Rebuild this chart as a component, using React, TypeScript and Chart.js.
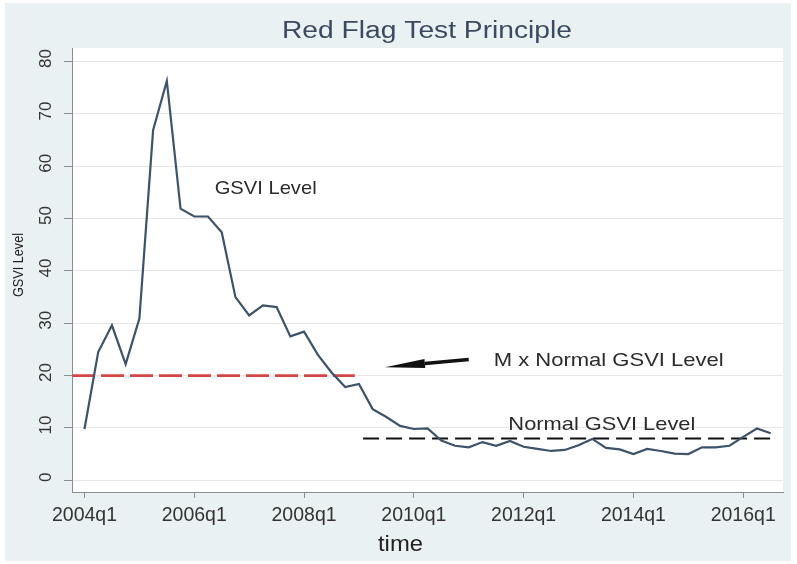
import React, { useEffect, useRef } from 'react';
import { Chart, registerables } from 'chart.js';

Chart.register(...registerables);

// ---- data ----
const chartTitle = 'Red Flag Test Principle';
const xAxisTitle = 'time';
const yAxisTitle = 'GSVI Level';
// quarterly GSVI level, starting 2004q1 (index 0)
const gsvi = [
  9.8, 24.5, 29.6, 22.2, 30.9, 66.9, 76.3, 51.9, 50.4, 50.4,
  47.4, 35.0, 31.5, 33.4, 33.1, 27.5, 28.4, 24.0, 20.6, 17.8,
  18.4, 13.6, 12.1, 10.4, 9.8, 9.9, 7.6, 6.6, 6.3, 7.3,
  6.6, 7.5, 6.4, 6.0, 5.6, 5.8, 6.7, 7.9, 6.2, 5.9,
  5.0, 6.0, 5.6, 5.1, 5.0, 6.3, 6.3, 6.6, 8.3, 9.9,
  9.0,
];
const xTickIndex = [0, 8, 16, 24, 32, 40, 48];
const xTickLabels = ['2004q1', '2006q1', '2008q1', '2010q1', '2012q1', '2014q1', '2016q1'];
const yTicks = [0, 10, 20, 30, 40, 50, 60, 70, 80];
const xRange = [-0.91, 50.9];
const yRange = [-2.24, 82.6];

// reference levels
const mNormalLevel = 20;
const mNormalSpan = [-0.91, 19.7];
const normalLevel = 8;
const normalSpan = [20.3, 50.1];

// annotations (quarter index, value)
const annotations = [
  { text: 'GSVI Level', q: 13.2, v: 54.7, width: 102 },
  { text: 'M x Normal GSVI Level', q: 38.2, v: 21.8, width: 230 },
  { text: 'Normal GSVI Level', q: 37.7, v: 9.56, width: 187 },
];
const arrowFrom = { q: 28.0, v: 23.1 };
const arrowTo = { q: 21.9, v: 21.6 };

const FONT = '"Liberation Sans", Arial, Helvetica, sans-serif';

function drawText(
  ctx: CanvasRenderingContext2D,
  text: string,
  x: number,
  y: number,
  size: number,
  color: string,
  opts: { width?: number; rotate?: boolean; baseline?: CanvasTextBaseline } = {}
) {
  ctx.save();
  ctx.font = `${size}px ${FONT}`;
  const w = ctx.measureText(text).width;
  ctx.translate(x, y);
  if (opts.rotate) ctx.rotate(-Math.PI / 2);
  if (opts.width) ctx.scale(opts.width / w, 1);
  ctx.fillStyle = color;
  ctx.textAlign = 'center';
  ctx.textBaseline = opts.baseline || 'alphabetic';
  ctx.fillText(text, 0, 0);
  ctx.restore();
}

const decorPlugin = {
  id: 'decor',
  beforeDraw(chart: any) {
    const { ctx, chartArea: a, width, height } = chart;
    ctx.save();
    ctx.fillStyle = '#ffffff';
    ctx.fillRect(0, 0, width, height);
    ctx.fillStyle = '#e9f1f3';
    ctx.fillRect(5, 3, width - 11, height - 6);
    ctx.fillStyle = '#ffffff';
    ctx.fillRect(a.left, a.top, a.right - a.left, a.bottom - a.top);
    ctx.restore();
  },
  afterDraw(chart: any) {
    const { ctx } = chart;
    const xs = chart.scales.x;
    const ys = chart.scales.y;
    // title
    drawText(ctx, chartTitle, 427, 38.3, 23, '#3b4a60', { width: 290 });
    // y tick labels (rotated)
    yTicks.forEach((t) => {
      drawText(ctx, String(t), 46, ys.getPixelForValue(t) - 3, 17, '#333333', {
        rotate: true,
        baseline: 'middle',
      });
    });
    // x tick labels
    xTickIndex.forEach((q, i) => {
      drawText(ctx, xTickLabels[i], xs.getPixelForValue(q), 520.7, 19.5, '#333333');
    });
    // axis titles
    drawText(ctx, xAxisTitle, 400.5, 550.7, 22, '#222222', { width: 45 });
    drawText(ctx, yAxisTitle, 19, 265, 15.5, '#222222', { rotate: true, baseline: 'middle', width: 64 });
    // annotations
    annotations.forEach((an) => {
      drawText(ctx, an.text, xs.getPixelForValue(an.q), ys.getPixelForValue(an.v), 19, '#2b2b2b', {
        width: an.width,
      });
    });
    // arrow
    const tx = xs.getPixelForValue(arrowFrom.q);
    const ty = ys.getPixelForValue(arrowFrom.v);
    const hx = xs.getPixelForValue(arrowTo.q);
    const hy = ys.getPixelForValue(arrowTo.v);
    const ang = Math.atan2(hy - ty, hx - tx);
    const dx = Math.cos(ang);
    const dy = Math.sin(ang);
    const headLen = 40;
    const half = 4.5;
    const bx = hx - dx * headLen;
    const by = hy - dy * headLen;
    ctx.save();
    ctx.strokeStyle = '#111111';
    ctx.fillStyle = '#111111';
    ctx.lineWidth = 3.5;
    ctx.lineCap = 'butt';
    ctx.beginPath();
    ctx.moveTo(tx, ty);
    ctx.lineTo(bx, by);
    ctx.stroke();
    ctx.beginPath();
    ctx.moveTo(hx, hy);
    ctx.lineTo(bx - dy * half, by + dx * half);
    ctx.lineTo(bx + dy * half, by - dx * half);
    ctx.closePath();
    ctx.fill();
    ctx.restore();
  },
};

export default function App() {
  const ref = useRef<HTMLCanvasElement | null>(null);

  useEffect(() => {
    if (!ref.current) return;
    const chart = new Chart(ref.current, {
      type: 'line',
      data: {
        datasets: [
          {
            label: 'GSVI',
            data: gsvi.map((v, i) => ({ x: i, y: v })),
            borderColor: '#3b536b',
            borderWidth: 2.2,
            pointRadius: 0,
            tension: 0,
            fill: false,
          },
          {
            label: 'M x Normal',
            data: mNormalSpan.map((q) => ({ x: q, y: mNormalLevel })),
            borderColor: '#d64545',
            borderWidth: 2.6,
            borderDash: [23, 6],
            pointRadius: 0,
            fill: false,
          },
          {
            label: 'Normal',
            data: normalSpan.map((q) => ({ x: q, y: normalLevel })),
            borderColor: '#111111',
            borderWidth: 2,
            borderDash: [16, 7],
            pointRadius: 0,
            fill: false,
          },
        ],
      },
      options: {
        responsive: false,
        animation: false,
        layout: { padding: { top: 48, right: 14, left: 0, bottom: 0 } },
        plugins: {
          legend: { display: false },
          tooltip: { enabled: false },
          title: { display: false },
        },
        scales: {
          x: {
            type: 'linear',
            min: xRange[0],
            max: xRange[1],
            afterBuildTicks: (s: any) => {
              s.ticks = xTickIndex.map((v) => ({ value: v }));
            },
            afterFit: (s: any) => {
              s.height = 72;
            },
            ticks: { display: false },
            grid: {
              drawOnChartArea: false,
              drawTicks: true,
              tickLength: 6,
              tickColor: '#8c8c8c',
            },
            border: { display: true, color: '#8c8c8c', width: 1 },
          },
          y: {
            type: 'linear',
            min: yRange[0],
            max: yRange[1],
            afterBuildTicks: (s: any) => {
              s.ticks = yTicks.map((v) => ({ value: v }));
            },
            afterFit: (s: any) => {
              s.width = 72;
            },
            ticks: { display: false },
            grid: {
              color: '#e6e6e6',
              lineWidth: 1,
              drawTicks: true,
              tickLength: 8,
              tickColor: '#8c8c8c',
            },
            border: { display: true, color: '#8c8c8c', width: 1 },
          },
        },
      },
      plugins: [decorPlugin],
    } as any);
    return () => chart.destroy();
  }, []);

  return (
    <div style={{ position: 'absolute', left: 0, top: 0, width: 797, height: 564 }}>
      <canvas ref={ref} width={797} height={564} style={{ width: 797, height: 564, display: 'block' }} />
    </div>
  );
}
